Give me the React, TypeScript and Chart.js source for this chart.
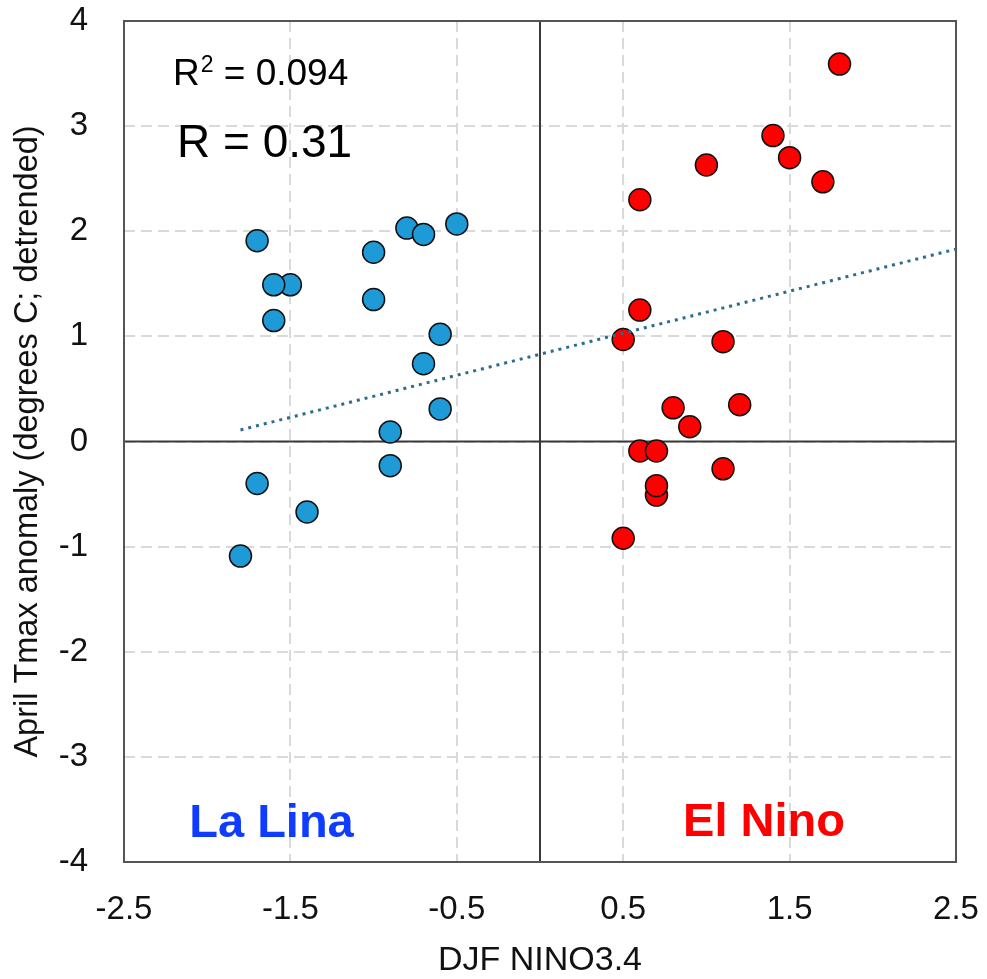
import React, { useEffect, useRef } from 'react';
import { Chart, registerables } from 'chart.js';

Chart.register(...registerables);

// ---- Data ----
const laNinaX = [-1.7, -1.5, -1.6, -1.6, -1.0, -1.0, -0.8, -0.7, -0.5, -0.6, -0.7, -0.6, -0.9, -0.9, -1.7, -1.4, -1.8];
const laNinaY = [1.91, 1.49, 1.49, 1.15, 1.80, 1.35, 2.03, 1.97, 2.07, 1.02, 0.74, 0.31, 0.09, -0.23, -0.40, -0.67, -1.09];

const elNinoX = [1.8, 1.4, 1.5, 1.7, 1.0, 0.6, 0.6, 0.5, 1.1, 0.8, 1.2, 0.9, 0.6, 0.7, 1.1, 0.7, 0.7, 0.5];
const elNinoY = [3.59, 2.91, 2.70, 2.47, 2.63, 2.30, 1.25, 0.97, 0.95, 0.32, 0.35, 0.14, -0.09, -0.09, -0.26, -0.51, -0.42, -0.92];

const trendX = [-1.8, 2.5];
const trendY = [0.11, 1.83];

const xTicks = [-2.5, -1.5, -0.5, 0.5, 1.5, 2.5];
const xTickLabels = ['-2.5', '-1.5', '-0.5', '0.5', '1.5', '2.5'];
const yTicks = [-4, -3, -2, -1, 0, 1, 2, 3, 4];
const yTickLabels = ['-4', '-3', '-2', '-1', '0', '1', '2', '3', '4'];

const xTitle = 'DJF NINO3.4';
const yTitle = 'April Tmax anomaly (degrees C; detrended)';
const r2Base = 'R';
const r2Sup = '2';
const r2Rest = ' = 0.094';
const rText = 'R = 0.31';
const laNinaLabel = 'La Lina';
const elNinoLabel = 'El Nino';

const FONT = '"Liberation Sans", Arial, Helvetica, sans-serif';

const toPoints = (xs: number[], ys: number[]) => xs.map((x, i) => ({ x, y: ys[i] }));

const framePlugin = {
  id: 'frameAndNotes',
  beforeDatasetsDraw(chart: any) {
    const { ctx, chartArea, scales } = chart;
    const { left, right, top, bottom } = chartArea;
    ctx.save();
    ctx.strokeStyle = '#3a3a3a';
    ctx.lineWidth = 2;
    ctx.setLineDash([]);
    const x0 = scales.x.getPixelForValue(0);
    const y0 = scales.y.getPixelForValue(0);
    ctx.beginPath();
    ctx.moveTo(x0, top);
    ctx.lineTo(x0, bottom);
    ctx.moveTo(left, y0);
    ctx.lineTo(right, y0);
    ctx.stroke();
    ctx.strokeStyle = '#555555';
    ctx.lineWidth = 2;
    ctx.strokeRect(left, top, right - left, bottom - top);
    ctx.restore();
  },
  afterDraw(chart: any) {
    const { ctx, chartArea } = chart;
    const { left, top, bottom } = chartArea;
    ctx.save();
    ctx.textBaseline = 'alphabetic';
    ctx.fillStyle = '#000000';
    ctx.textAlign = 'left';
    // R^2 line
    let x = left + 49;
    const yb = top + 64;
    ctx.font = `37px ${FONT}`;
    ctx.fillText(r2Base, x, yb);
    x += ctx.measureText(r2Base).width + 1;
    ctx.font = `23px ${FONT}`;
    ctx.fillText(r2Sup, x, yb - 13);
    x += ctx.measureText(r2Sup).width;
    ctx.font = `37px ${FONT}`;
    ctx.fillText(r2Rest, x, yb);
    // R line
    ctx.font = `46px ${FONT}`;
    ctx.fillText(rText, left + 53, top + 136);

    ctx.textAlign = 'center';
    ctx.font = `bold 47px ${FONT}`;
    ctx.fillStyle = '#0f3cff';
    ctx.fillText(laNinaLabel, left + 147.5, bottom - 25);
    ctx.fillStyle = '#ff0000';
    ctx.fillText(elNinoLabel, left + 640, bottom - 26);
    ctx.restore();
  },
};

const zeroPad = (s: any) => {
  s.paddingTop = 0;
  s.paddingBottom = 0;
  s.paddingLeft = 0;
  s.paddingRight = 0;
};

export default function App() {
  const canvasRef = useRef<HTMLCanvasElement | null>(null);

  useEffect(() => {
    document.body.style.margin = '0';
    const canvas = canvasRef.current;
    if (!canvas) return;

    const chart = new Chart(canvas, {
      type: 'scatter',
      data: {
        datasets: [
          {
            label: 'Trend',
            data: toPoints(trendX, trendY),
            showLine: true,
            borderColor: '#2c6d8c',
            borderWidth: 3,
            borderDash: [3, 5],
            pointRadius: 0,
            pointHoverRadius: 0,
            fill: false,
            order: 0,
          } as any,
          {
            label: 'La Nina',
            data: toPoints(laNinaX, laNinaY),
            backgroundColor: '#1e9bd7',
            borderColor: '#111111',
            borderWidth: 1.5,
            pointRadius: 11,
            pointHoverRadius: 11,
            order: 1,
          },
          {
            label: 'El Nino',
            data: toPoints(elNinoX, elNinoY),
            backgroundColor: '#ff0000',
            borderColor: '#111111',
            borderWidth: 1.5,
            pointRadius: 11,
            pointHoverRadius: 11,
            order: 2,
          },
        ],
      },
      options: {
        responsive: false,
        animation: false,
        events: [],
        layout: { padding: { left: 0, right: 31, top: 21, bottom: 0 } },
        plugins: {
          legend: { display: false },
          tooltip: { enabled: false },
          title: { display: false },
        },
        scales: {
          x: {
            type: 'linear',
            min: -2.5,
            max: 2.5,
            afterBuildTicks: (s: any) => {
              s.ticks = xTicks.map((v) => ({ value: v }));
            },
            afterFit: (s: any) => {
              s.height = 117;
              zeroPad(s);
            },
            ticks: {
              padding: 28,
              color: '#111111',
              font: { family: FONT, size: 33 },
              maxRotation: 0,
              autoSkip: false,
              callback: (_v: any, i: number) => xTickLabels[i],
            },
            grid: { color: '#d9d9d9', lineWidth: 2, drawTicks: false },
            border: { display: false, dash: [11, 6] },
            title: {
              display: true,
              text: xTitle,
              color: '#111111',
              font: { family: FONT, size: 34, lineHeight: 1 },
              padding: { top: 0, bottom: 1.5 },
            },
          },
          y: {
            type: 'linear',
            min: -4,
            max: 4,
            afterBuildTicks: (s: any) => {
              s.ticks = yTicks.map((v) => ({ value: v }));
            },
            afterFit: (s: any) => {
              s.width = 124;
              zeroPad(s);
            },
            ticks: {
              padding: 36,
              color: '#111111',
              font: { family: FONT, size: 33 },
              autoSkip: false,
              callback: (_v: any, i: number) => yTickLabels[i],
            },
            grid: { color: '#d9d9d9', lineWidth: 2, drawTicks: false },
            border: { display: false, dash: [11, 6] },
            title: {
              display: true,
              text: yTitle,
              color: '#111111',
              font: { family: FONT, size: 32.5, lineHeight: 1 },
              padding: { top: 12, bottom: 0 },
            },
          },
        },
      },
      plugins: [framePlugin],
    });

    return () => {
      chart.destroy();
    };
  }, []);

  return (
    <div style={{ position: 'absolute', left: 0, top: 0, width: 987, height: 979, background: '#ffffff' }}>
      <canvas ref={canvasRef} width={987} height={979} />
    </div>
  );
}
